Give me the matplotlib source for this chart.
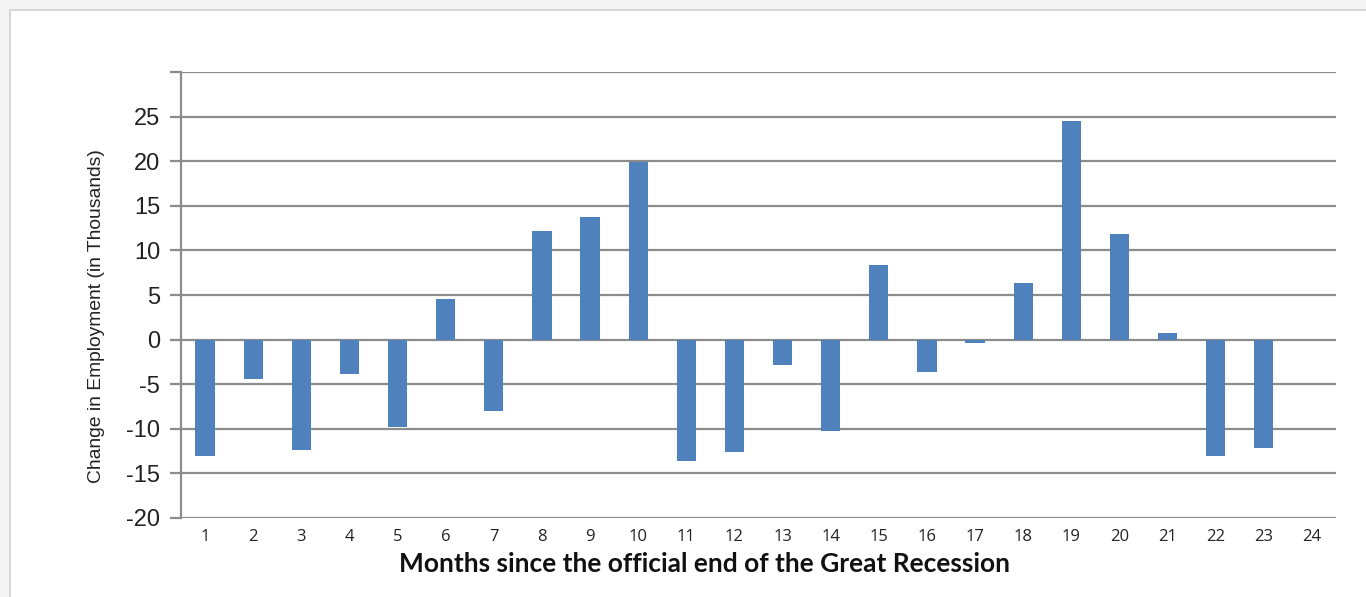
import matplotlib
matplotlib.use('Agg')
import matplotlib.pyplot as plt
from matplotlib.patches import Rectangle

# Monthly change in employment (thousands), months 1..24
months = list(range(1, 25))
change = [-13.1, -4.4, -12.4, -3.9, -9.8, 4.6, -8.0, 12.2, 13.8, 19.9,
          -13.6, -12.6, -2.9, -10.2, 8.4, -3.6, -0.4, 6.4, 24.5, 11.8,
          0.7, -13.0, -12.2, 0.0]
y_ticks = [-20, -15, -10, -5, 0, 5, 10, 15, 20, 25]

fig = plt.figure(figsize=(13.66, 5.97), dpi=100)
fig.patch.set_facecolor('#f4f4f4')

# white card with thin gray border, behind the axes
card = Rectangle((10 / 1366, -0.1), 1.1, (597 - 10) / 597 + 0.1,
                 transform=fig.transFigure, facecolor='white',
                 edgecolor='#cfcfcf', linewidth=1.2, zorder=-10)
fig.patches.append(card)

ax = fig.add_axes([181 / 1366, 79 / 597, 1155 / 1366, 446 / 597])
ax.set_zorder(5)
ax.set_facecolor('none')

ax.bar(months, change, width=0.4, color='#4f81bd', edgecolor='none',
       zorder=3)

ax.set_xlim(0.5, 24.5)
ax.set_ylim(-20, 30)
ax.set_yticks(y_ticks + [30])
ax.set_yticklabels([str(v) for v in y_ticks] + [''])
ax.set_xticks(months)
ax.set_xticklabels([str(m) for m in months], fontfamily='Open Sans',
                   fontsize=12, color='#222222')

for v in y_ticks + [30]:
    ax.axhline(v, color='#8c8c8c', linewidth=1.6, zorder=1)

for side in ['top', 'right', 'bottom']:
    ax.spines[side].set_visible(False)
ax.spines['left'].set_color('#8c8c8c')
ax.spines['left'].set_linewidth(1.6)

ax.tick_params(axis='y', length=8, width=1.6, color='#8c8c8c', pad=7,
               labelsize=17, labelcolor='#222222')
ax.tick_params(axis='x', length=0, pad=8)
for lbl in ax.get_yticklabels():
    lbl.set_fontfamily('Liberation Sans')

ax.set_ylabel('Change in Employment (in Thousands)', fontfamily='Liberation Sans',
              fontsize=13.9, color='#222222')
ax.yaxis.set_label_coords(-0.0656, 0.453)
ax.set_xlabel('Months since the official end of the Great Recession',
              fontfamily='Lato', fontweight='bold', fontsize=19,
              color='#111111')
ax.xaxis.set_label_coords(0.453, -0.077)

fig.savefig('out.png', dpi=100)
